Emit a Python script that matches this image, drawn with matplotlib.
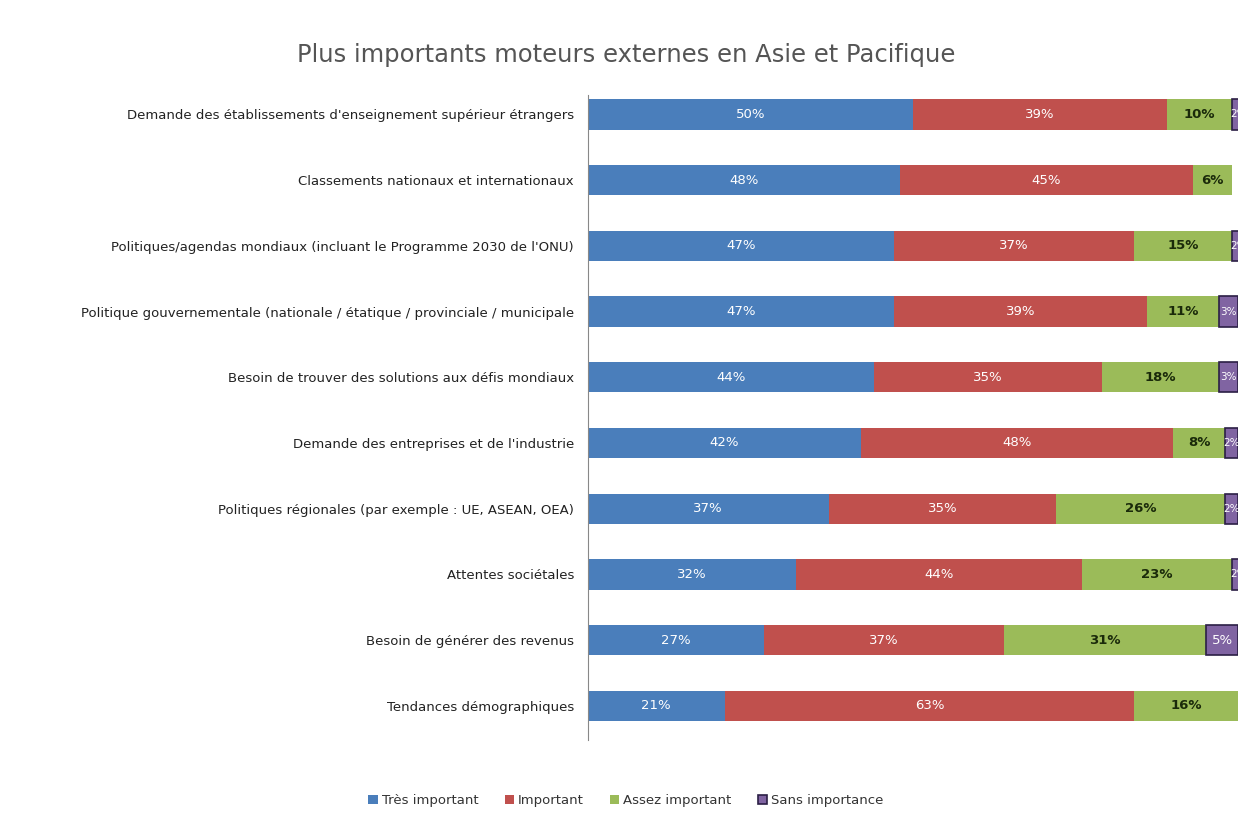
import matplotlib.pyplot as plt
import numpy as np

categories = [
    "Demande des établissements d'enseignement supérieur étrangers",
    "Classements nationaux et internationaux",
    "Politiques/agendas mondiaux (incluant le Programme 2030 de l'ONU)",
    "Politique gouvernementale (nationale / étatique / provinciale / municipale",
    "Besoin de trouver des solutions aux défis mondiaux",
    "Demande des entreprises et de l'industrie",
    "Politiques régionales (par exemple : UE, ASEAN, OEA)",
    "Attentes sociétales",
    "Besoin de générer des revenus",
    "Tendances démographiques",
]
tres_important = [50, 48, 47, 47, 44, 42, 37, 32, 27, 21]
important = [39, 45, 37, 39, 35, 48, 35, 44, 37, 63]
assez_important = [10, 6, 15, 11, 18, 8, 26, 23, 31, 16]
sans_importance = [2, 0, 2, 3, 3, 2, 2, 2, 5, 0]

series_names = ["Très important", "Important", "Assez important", "Sans importance"]
series = [tres_important, important, assez_important, sans_importance]
colors = ["#4a7ebb", "#c0504d", "#9bbb59", "#8064a2"]
edges = ["none", "none", "none", "#2b1f45"]
label_colors = ["white", "white", "#1a2a0a", "white"]
label_weights = ["normal", "normal", "bold", "normal"]

fig = plt.figure(figsize=(12.52, 8.15), dpi=100, facecolor="white")
ax = fig.add_axes([0.4696, 0.092, 0.5196, 0.791])

y = np.arange(len(categories))
left = np.zeros(len(categories))
for name, vals, c, ec, lc, lw in zip(series_names, series, colors, edges, label_colors, label_weights):
    vals = np.array(vals, dtype=float)
    bars = ax.barh(y, vals, left=left, height=0.46, color=c, edgecolor=ec,
                   linewidth=1.2 if ec != "none" else 0, label=name)
    for b, v in zip(bars, vals):
        if v <= 0:
            b.set_visible(False)
            continue
        fs = 7.5 if v < 4 else 9.5
        ax.text(b.get_x() + b.get_width() / 2, b.get_y() + b.get_height() / 2,
                f"{int(v)}%", ha="center", va="center", fontsize=fs,
                color=lc, fontweight=lw)
    left += vals

ax.set_xlim(0, 100)
ax.set_ylim(9.52, -0.29)
ax.set_yticks(y)
ax.set_yticklabels(categories, fontsize=9.5, color="#222222")
ax.tick_params(axis="y", length=0, pad=10)
ax.set_xticks([])
for s in ["top", "right", "bottom"]:
    ax.spines[s].set_visible(False)
ax.spines["left"].set_color("#888888")
ax.spines["left"].set_linewidth(0.8)

fig.text(0.5, 0.932, "Plus importants moteurs externes en Asie et Pacifique",
         ha="center", va="center", fontsize=17.5, color="#555555")

handles, labels = ax.get_legend_handles_labels()
fig.legend(handles, labels, loc="center", bbox_to_anchor=(0.5, 0.018), ncol=4,
           frameon=False, fontsize=9.5, handlelength=0.7, handleheight=0.7,
           handletextpad=0.3, columnspacing=2.0, labelcolor="#333333")

fig.savefig("out.png", dpi=100, facecolor="white")
